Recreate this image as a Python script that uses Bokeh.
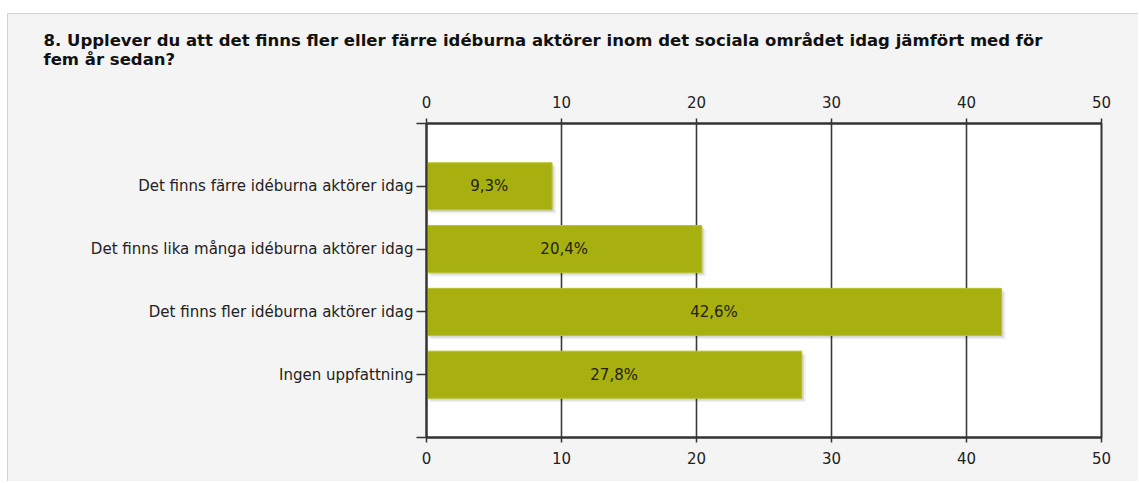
from bokeh.plotting import figure
from bokeh.models import Range1d, LinearAxis, FixedTicker, Title, ColumnDataSource
from bokeh.embed import file_html
from bokeh.resources import INLINE
from bokeh.core.properties import value

title_lines = [
    "8. Upplever du att det finns fler eller färre idéburna aktörer inom det sociala området idag jämfört med för",
    "fem år sedan?",
]
categories = [
    "Det finns färre idéburna aktörer idag",
    "Det finns lika många idéburna aktörer idag",
    "Det finns fler idéburna aktörer idag",
    "Ingen uppfattning",
]
values = [9.3, 20.4, 42.6, 27.8]
bar_labels = ["9,3%", "20,4%", "42,6%", "27,8%"]
x_ticks = [0, 10, 20, 30, 40, 50]

FONT = "DejaVu Sans"
FS = "15px"
BAR = "#a8b010"
INK = "#333333"

pos = list(range(1, len(categories) + 1))
src = ColumnDataSource(dict(
    y=pos,
    v=values,
    mid=[v / 2 for v in values],
    lab=bar_labels,
    ys1=[p + 0.035 for p in pos],
    ys2=[p + 0.06 for p in pos],
    l1=[0.15] * len(pos),
    r1=[v + 0.15 for v in values],
    l2=[0.3] * len(pos),
    r2=[v + 0.3 for v in values],
))

p = figure(
    width=1131, height=479,
    x_range=Range1d(x_ticks[0], x_ticks[-1]),
    y_range=Range1d(len(categories) + 1, 0),
    x_axis_location="above",
    output_backend="svg", toolbar_location=None, tools="",
    min_border_left=419, min_border_right=37, min_border_top=121, min_border_bottom=44,
)
p.margin = (2, 0, 0, 7)
p.styles = {
    "background": (
        "linear-gradient(to bottom, #ffffff 11px, transparent 11px), "
        "linear-gradient(to right, #d4d4d4 1px, transparent 1px), "
        "linear-gradient(to bottom, #d4d4d4 11px, #d4d4d4 12px, #f4f4f4 12px)"
    )
}
p.background_fill_color = "#ffffff"
p.border_fill_color = None
p.outline_line_color = INK
p.outline_line_width = 2

# shadows
p.hbar(y="ys2", left="l2", right="r2", height=0.75, source=src, fill_color="#000000", fill_alpha=0.06, line_color=None)
p.hbar(y="ys1", left="l1", right="r1", height=0.75, source=src, fill_color="#000000", fill_alpha=0.10, line_color=None)
# bars
p.hbar(y="y", left=0, right="v", height=0.75, source=src, fill_color=BAR, line_color="#b8c030", line_width=1)
p.text(x="mid", y="y", text="lab", source=src, text_align="center", text_baseline="middle",
       text_font=value(FONT), text_font_size=FS, text_color="#22220c")

bottom = LinearAxis()
p.add_layout(bottom, "below")

for ax in p.xaxis:
    ax.ticker = FixedTicker(ticks=x_ticks)
    ax.major_tick_in = 0
    ax.major_tick_out = 5
    ax.minor_tick_line_color = None
    ax.axis_line_color = INK
    ax.axis_line_width = 2
    ax.major_tick_line_color = INK
    ax.major_tick_line_width = 1.5
    ax.major_label_text_font = FONT
    ax.major_label_text_font_size = FS
    ax.major_label_text_color = "#222222"
p.above[0].major_label_standoff = 11
bottom.major_label_standoff = 9

ya = p.yaxis[0]
ya.ticker = FixedTicker(ticks=[0] + pos + [len(categories) + 1])
overrides = {0: " ", len(categories) + 1: " "}
for i, c in zip(pos, categories):
    overrides[i] = c
ya.major_label_overrides = overrides
ya.major_tick_in = 0
ya.major_tick_out = 10
ya.minor_tick_line_color = None
ya.major_label_standoff = 3
ya.axis_line_color = INK
ya.axis_line_width = 2
ya.major_tick_line_color = INK
ya.major_tick_line_width = 1.5
ya.major_label_text_font = FONT
ya.major_label_text_font_size = FS
ya.major_label_text_color = "#222222"

p.xgrid.ticker = FixedTicker(ticks=x_ticks[1:-1])
p.xgrid.grid_line_color = "#3a3a3a"
p.xgrid.grid_line_width = 1.6
p.ygrid.grid_line_color = None

t = Title(text="\n".join(title_lines), text_font=FONT, text_font_size="16.5px", text_font_style="bold",
          text_color="#111111", align="left", offset=-383, standoff=48)
p.add_layout(t, "above")

open("out.html", "w").write(file_html(p, INLINE))
